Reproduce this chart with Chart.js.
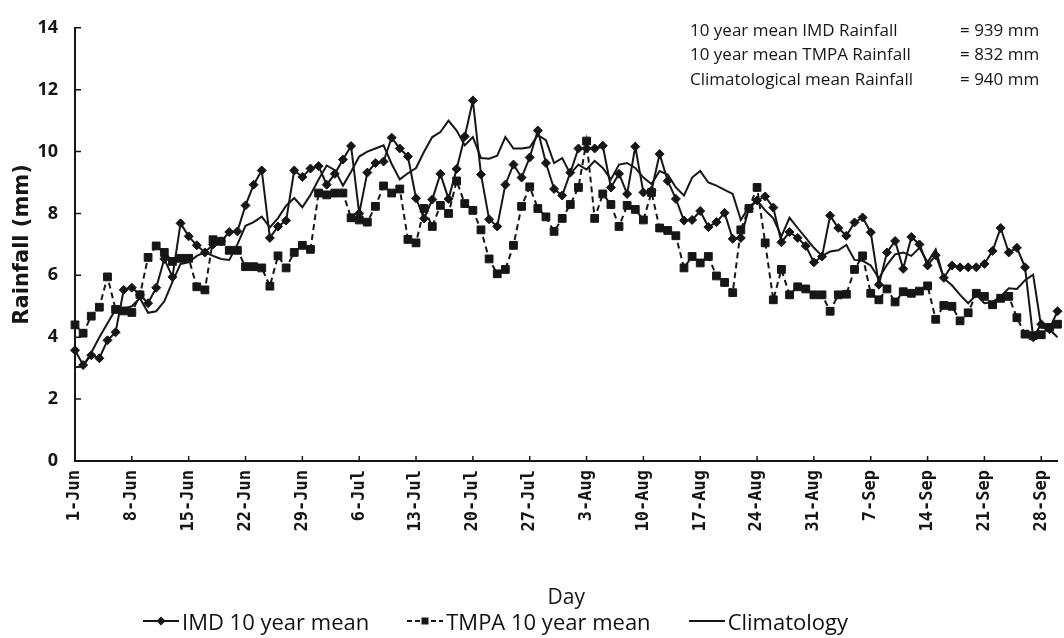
<!DOCTYPE html>
<html>
<head>
<meta charset="utf-8">
<script src="https://cdn.jsdelivr.net/npm/chart.js@4.4.1/dist/chart.umd.min.js"></script>
<style>
  html, body { margin: 0; padding: 0; background: #fff; }
  #wrap { position: relative; width: 1064px; height: 638px; }
  #leyenda {
    position: absolute; top: 607px; left: 143px;
    display: flex; align-items: center;
    font-family: 'Open Sans', sans-serif; font-size: 22px; line-height: 28px; color: #111;
  }
  #leyenda .item { display: flex; align-items: center; margin-right: 38px; }
  #leyenda svg { margin-right: 3px; }
</style>
</head>
<body>
<div id="wrap">
  <canvas id="rainChart" width="1064" height="638"></canvas>
  <div id="leyenda"></div>
</div>
<script>
// Dias del monzon: 1-Jun a 30-Sep
const meses = [['Jun', 30], ['Jul', 31], ['Aug', 31], ['Sep', 30]];
const dias = [];
meses.forEach(([m, n]) => { for (let d = 1; d <= n; d++) dias.push(d + '-' + m); });

// Ticks del eje Y
const yTicks = [0, 2, 4, 6, 8, 10, 12, 14];

// Lluvia diaria (mm)
const imd = [
  3.58, 3.10, 3.42, 3.32, 3.90, 4.16, 5.53, 5.60, 5.37, 5.10,
  5.60, 6.53, 5.95, 7.68, 7.26, 6.97, 6.74, 7.00, 7.10, 7.40,
  7.42, 8.26, 8.93, 9.39, 7.21, 7.58, 7.77, 9.39, 9.18, 9.45,
  9.53, 8.93, 9.28, 9.74, 10.18, 8.00, 9.32, 9.63, 9.68, 10.45,
  10.10, 9.84, 8.49, 7.84, 8.45, 9.28, 8.47, 9.44, 10.49, 11.65,
  9.26, 7.81, 7.58, 8.93, 9.58, 9.16, 9.81, 10.68, 9.63, 8.79,
  8.58, 9.32, 10.10, 10.10, 10.10, 10.19, 8.84, 9.28, 8.63, 10.16,
  8.68, 8.74, 9.92, 9.05, 8.47, 7.77, 7.79, 8.08, 7.56, 7.72,
  8.02, 7.18, 7.21, 8.16, 8.42, 8.55, 8.19, 7.07, 7.40, 7.21,
  6.95, 6.42, 6.61, 7.93, 7.53, 7.28, 7.71, 7.87, 7.39, 5.70,
  6.74, 7.11, 6.21, 7.24, 7.00, 6.32, 6.65, 5.92, 6.32, 6.26,
  6.26, 6.26, 6.37, 6.79, 7.53, 6.74, 6.89, 6.26, 4.00, 4.42,
  4.26, 4.84
];

const tmpa = [
  4.40, 4.13, 4.68, 4.97, 5.95, 4.90, 4.85, 4.80, 5.37, 6.58,
  6.95, 6.74, 6.45, 6.55, 6.55, 5.63, 5.53, 7.15, 7.10, 6.81,
  6.81, 6.28, 6.28, 6.24, 5.65, 6.63, 6.24, 6.74, 6.97, 6.84,
  8.66, 8.60, 8.66, 8.66, 7.86, 7.79, 7.72, 8.23, 8.89, 8.66,
  8.79, 7.16, 7.05, 8.16, 7.58, 8.26, 8.00, 9.05, 8.32, 8.10,
  7.47, 6.53, 6.05, 6.19, 6.97, 8.23, 8.86, 8.16, 7.89, 7.42,
  7.84, 8.29, 8.84, 10.34, 7.84, 8.63, 8.29, 7.58, 8.26, 8.13,
  7.79, 8.68, 7.53, 7.45, 7.28, 6.24, 6.61, 6.40, 6.61, 5.98,
  5.77, 5.44, 7.47, 8.16, 8.84, 7.05, 5.21, 6.19, 5.37, 5.63,
  5.56, 5.37, 5.37, 4.84, 5.37, 5.39, 6.19, 6.63, 5.42, 5.21,
  5.56, 5.14, 5.47, 5.42, 5.49, 5.66, 4.58, 5.03, 5.00, 4.53,
  4.79, 5.42, 5.32, 5.05, 5.26, 5.32, 4.63, 4.10, 4.05, 4.08,
  4.32, 4.42
];

const clima = [
  3.03, 3.05, 3.50, 4.00, 4.45, 4.90, 4.92, 5.00, 5.26, 4.79,
  4.84, 5.16, 5.79, 6.37, 6.42, 6.63, 6.74, 6.63, 6.53, 6.50,
  7.00, 7.60, 7.72, 7.90, 7.55, 7.85, 8.25, 8.50, 8.20, 8.60,
  9.10, 9.55, 9.40, 8.90, 9.35, 9.84, 10.00, 10.10, 10.20, 9.60,
  9.10, 9.30, 9.47, 10.00, 10.47, 10.63, 11.00, 10.68, 10.20, 10.47,
  9.79, 9.77, 9.87, 10.47, 10.10, 10.10, 10.14, 10.53, 10.37, 9.63,
  9.79, 9.28, 9.58, 9.42, 9.70, 9.47, 9.10, 9.58, 9.63, 9.47,
  9.16, 8.95, 9.37, 9.26, 8.84, 8.58, 9.16, 9.37, 9.00, 8.90,
  8.76, 8.63, 7.79, 8.21, 8.42, 8.10, 7.84, 7.26, 7.86, 7.53,
  7.21, 6.89, 6.63, 6.77, 6.81, 6.98, 6.50, 6.47, 6.32, 5.90,
  6.34, 6.68, 6.74, 6.63, 6.89, 6.42, 6.84, 5.90, 5.68, 5.37,
  5.10, 5.37, 5.10, 5.14, 5.32, 5.58, 5.56, 5.84, 6.02, 4.32,
  4.26, 4.00
];

const notas = [
  ['10 year mean IMD Rainfall', '= 939 mm'],
  ['10 year mean TMPA Rainfall', '= 832 mm'],
  ['Climatological mean Rainfall', '= 940 mm']
];

const NEGRO = '#161616';

// Marcas hacia adentro de los ejes + texto de promedios
const marcasYNotas = {
  id: 'marcasYNotas',
  afterDraw(chart) {
    const { ctx, chartArea, scales: { x, y } } = chart;
    ctx.save();
    ctx.strokeStyle = NEGRO;
    ctx.lineWidth = 1.5;
    ctx.beginPath();
    yTicks.forEach(v => {
      const py = y.getPixelForValue(v);
      ctx.moveTo(chartArea.left, py);
      ctx.lineTo(chartArea.left + 6, py);
    });
    dias.forEach((d, i) => {
      if (i % 7 !== 0) return;
      const px = x.getPixelForValue(i);
      ctx.moveTo(px, chartArea.bottom);
      ctx.lineTo(px, chartArea.bottom - 5);
    });
    ctx.stroke();

    ctx.fillStyle = NEGRO;
    ctx.font = '17px "Open Sans"';
    ctx.textBaseline = 'middle';
    notas.forEach((n, k) => {
      ctx.fillText(n[0], 690, 31 + k * 24.5);
      ctx.fillText(n[1], 960, 31 + k * 24.5);
    });
    ctx.restore();
  }
};

const ctx = document.getElementById('rainChart').getContext('2d');
new Chart(ctx, {
  type: 'line',
  data: {
    labels: dias,
    datasets: [
      {
        label: 'IMD 10 year mean',
        data: imd,
        borderColor: NEGRO,
        backgroundColor: NEGRO,
        borderWidth: 2,
        pointStyle: 'rectRot',
        pointRadius: 4.5,
        pointBorderWidth: 1,
        tension: 0
      },
      {
        label: 'TMPA 10 year mean',
        data: tmpa,
        borderColor: NEGRO,
        backgroundColor: NEGRO,
        borderWidth: 2,
        borderDash: [6, 4],
        pointStyle: 'rect',
        pointRadius: 5.5,
        pointBorderWidth: 1,
        tension: 0
      },
      {
        label: 'Climatology',
        data: clima,
        borderColor: NEGRO,
        borderWidth: 2,
        pointRadius: 0,
        tension: 0
      }
    ]
  },
  options: {
    responsive: false,
    devicePixelRatio: 1,
    animation: false,
    layout: { padding: { top: 18, right: 2, bottom: 31, left: 0 } },
    plugins: {
      legend: { display: false },
      tooltip: { enabled: false }
    },
    scales: {
      x: {
        offset: false,
        grid: { display: false, drawTicks: false },
        border: { display: true, color: NEGRO, width: 2 },
        ticks: {
          autoSkip: false,
          minRotation: 90,
          maxRotation: 90,
          padding: 9,
          color: NEGRO,
          font: { family: 'DejaVu Sans Mono', size: 17, weight: 'bold' },
          callback: (v, i) => (i % 7 === 0 ? dias[i] : '')
        },
        title: {
          display: true,
          text: 'Day',
          color: NEGRO,
          padding: { top: 0, bottom: 0 },
          font: { family: 'Open Sans', size: 21, lineHeight: 0.85 }
        },
        afterFit: s => {
          s.height = 146;
          // sin margen extra a la derecha: el ultimo dia queda al borde
          s.paddingLeft = 0;
          s.paddingRight = 0;
        }
      },
      y: {
        min: 0,
        max: 14,
        grid: { display: false, drawTicks: false },
        border: { display: true, color: NEGRO, width: 2 },
        ticks: {
          stepSize: 2,
          padding: 17,
          color: NEGRO,
          font: { family: '"Liberation Sans Narrow", "Open Sans"', size: 18, weight: 'bold' }
        },
        title: {
          display: true,
          text: 'Rainfall (mm)',
          color: NEGRO,
          padding: { top: 12, bottom: 0 },
          font: { family: 'DejaVu Sans', size: 21, weight: 'bold', lineHeight: 1 }
        },
        afterFit: s => { s.width = 75; }
      }
    }
  },
  plugins: [marcasYNotas]
});

// Leyenda abajo, con linea y marcador de cada serie
const iconos = {
  'IMD 10 year mean': '<line x1="0" y1="7" x2="36" y2="7" stroke="' + NEGRO + '" stroke-width="2"/>' +
    '<polygon points="18,2.5 22.5,7 18,11.5 13.5,7" fill="' + NEGRO + '"/>',
  'TMPA 10 year mean': '<line x1="0" y1="7" x2="36" y2="7" stroke="' + NEGRO + '" stroke-width="2" stroke-dasharray="5,3"/>' +
    '<rect x="14.5" y="3.5" width="7" height="7" fill="' + NEGRO + '"/>',
  'Climatology': '<line x1="0" y1="7" x2="36" y2="7" stroke="' + NEGRO + '" stroke-width="2"/>'
};
const leyenda = document.getElementById('leyenda');
Object.keys(iconos).forEach(nombre => {
  const item = document.createElement('div');
  item.className = 'item';
  item.innerHTML = '<svg width="36" height="14">' + iconos[nombre] + '</svg><span>' + nombre + '</span>';
  leyenda.appendChild(item);
});
</script>
</body>
</html>
